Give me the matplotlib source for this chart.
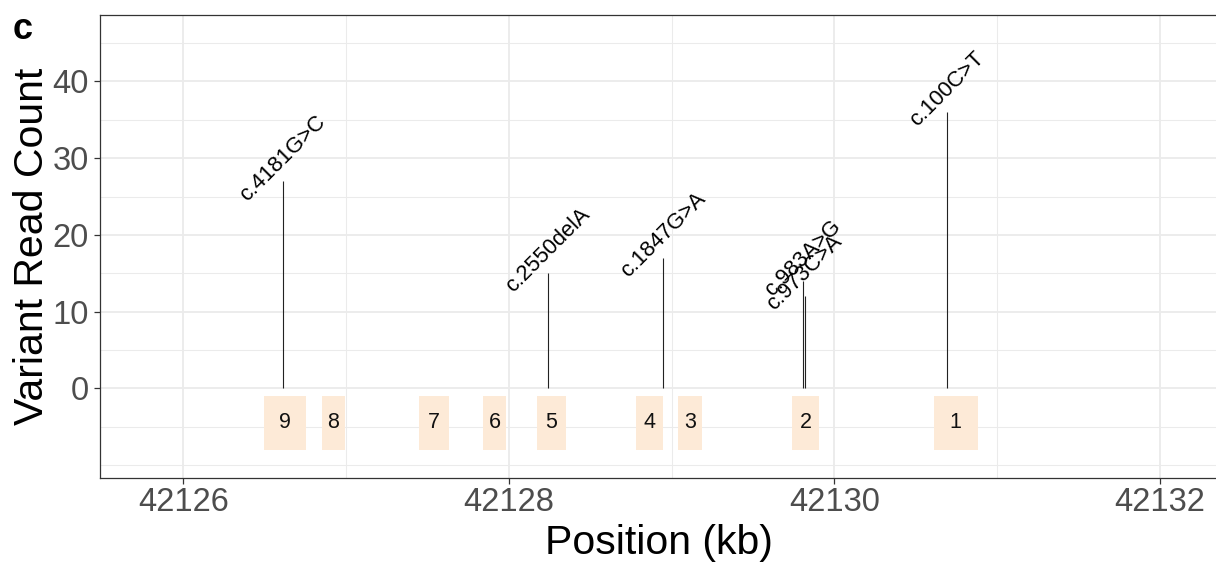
#!/usr/bin/env python3
"""Variant read counts along the gene, with exon boxes underneath."""

import matplotlib.pyplot as plt

plt.rcParams["font.family"] = ["Liberation Sans", "DejaVu Sans"]

# exons (kb), numbered from the 5' end; gene sits on the minus strand
exon_number = ["9", "8", "7", "6", "5", "4", "3", "2", "1"]
exon_start = [42126.498, 42126.852, 42127.448, 42127.841, 42128.173,
              42128.781, 42129.037, 42129.738, 42130.610]
exon_end = [42126.754, 42126.993, 42127.632, 42127.982, 42128.349,
            42128.945, 42129.185, 42129.907, 42130.880]

# variants
variant_name = ["c.4181G>C", "c.2550delA", "c.1847G>A", "c.983A>G", "c.973C>A", "c.100C>T"]
variant_pos = [42126.612, 42128.240, 42128.947, 42129.806, 42129.816, 42130.692]
variant_count = [27, 15, 17, 14, 12, 36]

x_ticks = [42126, 42128, 42130, 42132]
x_minor = [42127, 42129, 42131]
y_ticks = [0, 10, 20, 30, 40]
y_minor = [-10, -5, 5, 15, 25, 35, 45]

EXON_LOW, EXON_HIGH = -8, -1
LABEL_NUDGE = 3

fig = plt.figure(figsize=(12.16, 5.63), dpi=100)
ax = fig.add_axes([100 / 1216, (563 - 477.7) / 563, 1118 / 1216, 462.7 / 563])

ax.set_xlim(42125.488, 42132.356)
ax.set_ylim(-11.66, 48.67)

# background grid in the theme_bw style
for v in x_minor:
    ax.axvline(v, color="#EBEBEB", lw=0.75, zorder=0)
for v in x_ticks:
    ax.axvline(v, color="#EBEBEB", lw=1.3, zorder=0)
for v in y_minor:
    ax.axhline(v, color="#EBEBEB", lw=0.75, zorder=0)
for v in y_ticks:
    ax.axhline(v, color="#EBEBEB", lw=1.3, zorder=0)

# exon boxes with their numbers
for num, s, e in zip(exon_number, exon_start, exon_end):
    ax.fill_between([s, e], EXON_LOW, EXON_HIGH, color="#FDEAD7", lw=0, zorder=1)
    ax.text((s + e) / 2, (EXON_LOW + EXON_HIGH) / 2, num, ha="center", va="center",
            fontsize=15.5, color="#111111", zorder=3)

# lollipop stems and variant labels
ax.vlines(variant_pos, 0, variant_count, color="#222222", lw=0.8, zorder=2)
for name, pos, cnt in zip(variant_name, variant_pos, variant_count):
    ax.text(pos, cnt + LABEL_NUDGE, name, rotation=45, ha="center", va="center",
            rotation_mode="anchor", fontsize=15.8, color="black", zorder=3)

ax.set_xticks(x_ticks)
ax.set_yticks(y_ticks)
ax.tick_params(axis="both", colors="#333333", labelcolor="#4D4D4D", labelsize=23.5,
               length=4, width=0.9)
ax.tick_params(axis="x", pad=3)
ax.tick_params(axis="y", pad=4)
for side, sp in ax.spines.items():
    sp.set_color("#333333")
    sp.set_linewidth(0.9)

ax.set_xlabel("Position (kb)", fontsize=29.5, labelpad=4)
ax.set_ylabel("Variant Read Count", fontsize=29.5, labelpad=1)

fig.text(0.010, 0.978, "c", fontsize=26, fontweight="bold", va="top", ha="left")

fig.savefig("out.png", dpi=100)
